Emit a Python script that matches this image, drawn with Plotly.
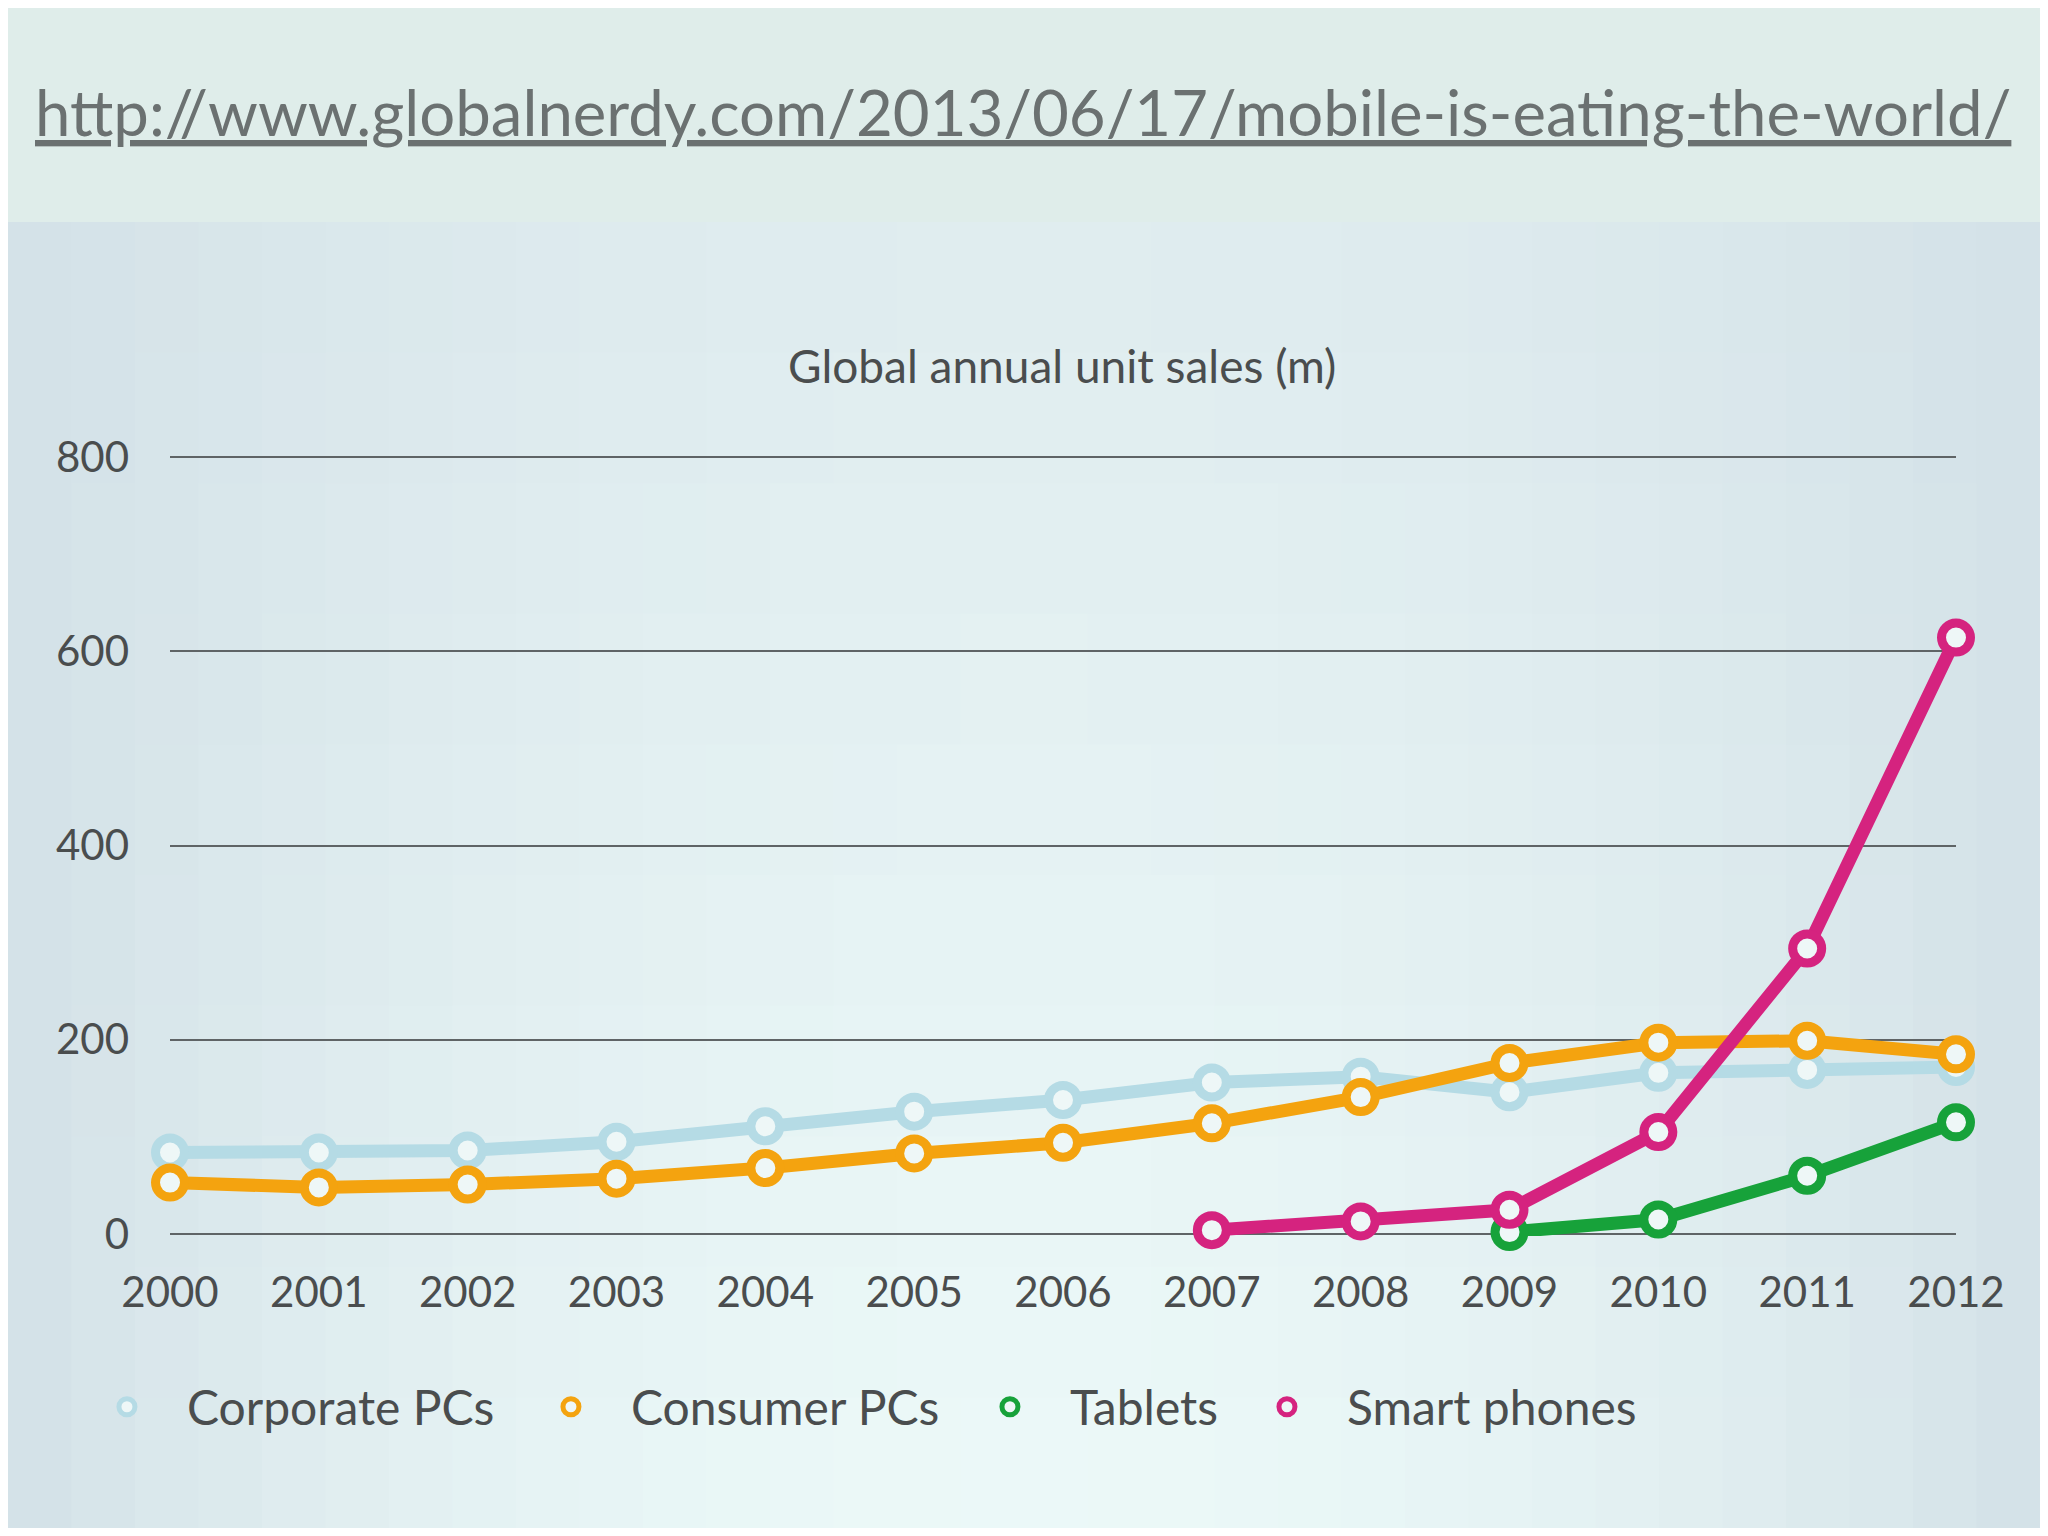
import plotly.graph_objects as go

years = list(range(2000, 2013))
corporate_pcs = [84, 84, 86, 95, 111, 126, 138, 156, 162, 146, 166, 169, 172]
consumer_pcs = [53, 48, 51, 57, 68, 83, 94, 114, 141, 176, 197, 199, 185]
tablet_years = [2009, 2010, 2011, 2012]
tablets = [2, 15, 60, 115]
phone_years = [2007, 2008, 2009, 2010, 2011, 2012]
smart_phones = [4, 13, 25, 105, 294, 614]
y_ticks = [0, 200, 400, 600, 800]

series = [
    ("Corporate PCs", years, corporate_pcs, "#b5dbe5"),
    ("Consumer PCs", years, consumer_pcs, "#f4a30f"),
    ("Tablets", tablet_years, tablets, "#17a23a"),
    ("Smart phones", phone_years, smart_phones, "#d5237f"),
]
legend_x = [-0.0577, 0.1909, 0.4367, 0.5918]
legend_names = ["legend", "legend2", "legend3", "legend4"]

FONT = "Lato"
TXT = "#4a4d4e"
W, H = 2032, 1520
L, R, T, B = 162, 84, 447, 292
PW, PH = W - L - R, H - T - B


def px_to_paper_x(px):
    return (px - L) / PW


def px_to_paper_y(py):
    return 1 - (py - T) / PH


# background: soft gradient (decorative) built from small rectangles
shapes = []
ncol, nrow = 32, 10
top_band = 214
edge = (211, 225, 231)
for i in range(ncol):
    tx = (i + 0.5) / ncol
    e = abs(2 * tx - 1) ** 2
    for j in range(nrow):
        ty = (j + 0.5) / nrow
        center = (223 + 13 * ty, 236 + 13 * ty, 239 + 9 * ty)
        c = tuple(int(round(center[k] * (1 - e) + edge[k] * e)) for k in range(3))
        x0 = i * W / ncol
        x1 = (i + 1) * W / ncol + 1
        y0 = top_band + j * (H - top_band) / nrow
        y1 = top_band + (j + 1) * (H - top_band) / nrow + 1
        shapes.append(dict(type="rect", xref="paper", yref="paper",
                           x0=px_to_paper_x(x0), x1=px_to_paper_x(x1),
                           y0=px_to_paper_y(y1), y1=px_to_paper_y(y0),
                           fillcolor="rgb(%d,%d,%d)" % c, line=dict(width=0),
                           layer="below"))
shapes.append(dict(type="rect", xref="paper", yref="paper",
                   x0=px_to_paper_x(-10), x1=px_to_paper_x(W + 10),
                   y0=px_to_paper_y(top_band), y1=px_to_paper_y(-10),
                   fillcolor="#dfedea", line=dict(width=0), layer="below"))

fig = go.Figure()
for name, xs, ys, col in series:
    fig.add_trace(go.Scatter(
        x=xs, y=ys, mode="lines+markers", name=name, showlegend=False,
        line=dict(color=col, width=13),
        marker=dict(symbol="circle", size=29, color="#eef7f7",
                    line=dict(color=col, width=9)),
        cliponaxis=False,
    ))
for (name, xs, ys, col), lg in zip(series, legend_names):
    fig.add_trace(go.Scatter(
        x=[None], y=[None], mode="markers", name=name, showlegend=True,
        legend=lg,
        marker=dict(symbol="circle", size=16, color="#eef7f7",
                    line=dict(color=col, width=5)),
    ))

legend_common = dict(orientation="h", y=-0.219, yanchor="middle", xanchor="left",
                     font=dict(family=FONT, size=48, color=TXT),
                     bgcolor="rgba(0,0,0,0)", itemwidth=110)

fig.update_layout(
    width=W, height=H,
    margin=dict(l=L, r=R, t=T, b=B),
    paper_bgcolor="#e3eef0",
    plot_bgcolor="rgba(0,0,0,0)",
    font=dict(family=FONT, color=TXT, size=42),
    showlegend=True,
    legend=dict(x=legend_x[0], **legend_common),
    legend2=dict(x=legend_x[1], **legend_common),
    legend3=dict(x=legend_x[2], **legend_common),
    legend4=dict(x=legend_x[3], **legend_common),
    shapes=shapes,
    annotations=[
        dict(text="<u>http://www.globalnerdy.com/2013/06/17/mobile-is-eating-the-world/</u>",
             xref="paper", yref="paper", x=0.4776, y=1.44, showarrow=False,
             xanchor="center", yanchor="middle",
             font=dict(family=FONT, size=63.5, color="#6b7171")),
        dict(text="Global annual unit sales (m)", xref="paper", yref="paper",
             x=0.4994, y=1.114, showarrow=False, xanchor="center", yanchor="middle",
             font=dict(family=FONT, size=46, color=TXT)),
    ],
)
fig.update_xaxes(range=[2000, 2012], tickvals=years, ticktext=[str(y) for y in years],
                 showgrid=False, zeroline=False, showline=False,
                 ticklabelstandoff=28, tickfont=dict(size=42, color=TXT))
fig.update_yaxes(range=[-2, 802], tickvals=y_ticks,
                 showgrid=True, gridcolor="#5f6466", gridwidth=2,
                 zeroline=False, showline=False,
                 ticklabelstandoff=40, tickfont=dict(size=42, color=TXT))

fig.write_html("out.html")
